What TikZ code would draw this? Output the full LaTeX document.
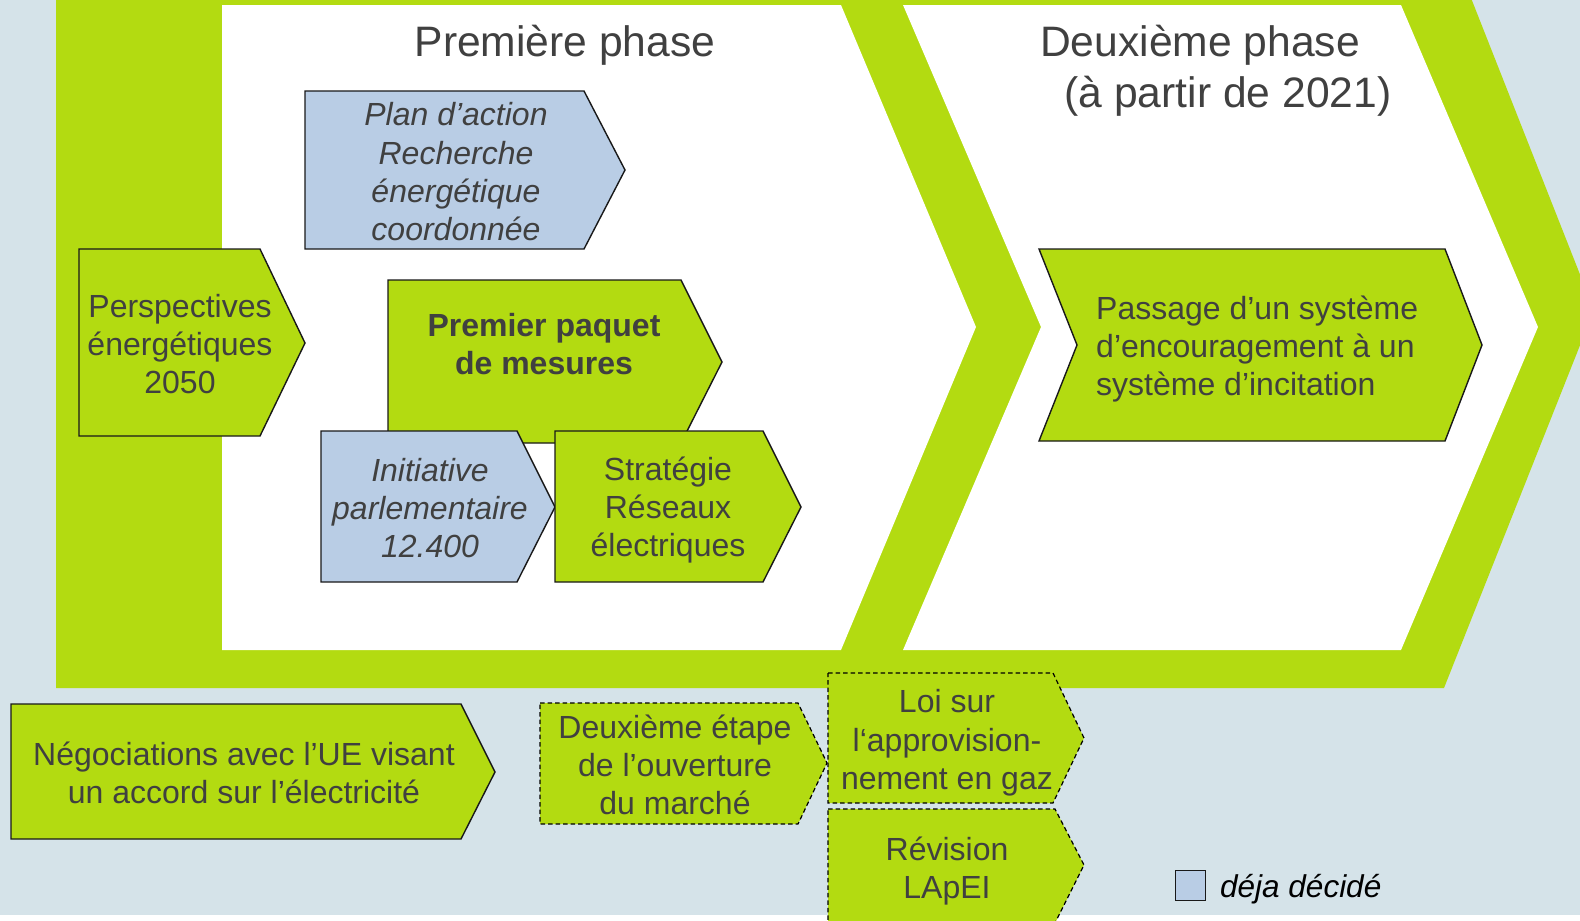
\documentclass[tikz,border=0pt]{standalone}
\usepackage{fontspec}
\setmainfont{Liberation Sans}
\definecolor{bg}{RGB}{213,227,233}
\definecolor{lime}{RGB}{179,219,17}
\definecolor{pale}{RGB}{185,205,229}
\definecolor{txt}{RGB}{64,64,64}
\begin{document}
\begin{tikzpicture}[x=1pt,y=-1pt,
  box/.style={draw=black!90, line width=1.4pt, line join=miter},
  greenbox/.style={box, fill=lime},
  bluebox/.style={box, fill=pale},
  dashbox/.style={fill=lime, draw=black, line width=1.2pt, dash pattern=on 4.5pt off 3pt},
  lbl/.style={text=txt, align=center, inner sep=0pt, font=\fontsize{32}{38.3}\selectfont},
  ilbl/.style={lbl, font=\fontsize{32}{38.3}\selectfont\itshape},
  blbl/.style={lbl, font=\fontsize{32}{37.5}\selectfont\bfseries},
  title/.style={text=txt, inner sep=0pt, anchor=base, font=\fontsize{42.6}{50}\selectfont}]
\useasboundingbox (0,0) rectangle (1580,921);
\clip (0,0) rectangle (1580,921);
% background
\fill[bg] (0,0) rectangle (1580,915);
\fill[white] (0,915) rectangle (1580,921);
% big chevron frame
\fill[lime] (56,-2) -- (1471,-2) -- (1594,310) -- (1444,688) -- (56,688) -- cycle;
\fill[white] (222,5) -- (841,5) -- (976,327) -- (841,650) -- (222,650) -- cycle;
\fill[white] (903,5) -- (1401,5) -- (1538,327) -- (1401,650) -- (903,650) -- (1041,327) -- cycle;
% titles
\node[title] (t1) at (565,56) {Première phase};
\node[title] (t2) at (1200,56) {Deuxième phase};
\node[title] (t3) at (1228,107) {(à partir de 2021)};
% first phase boxes
\path[bluebox] (305,91) -- (584,91) -- (625,170) -- (584,249) -- (305,249) -- cycle;
\node[ilbl] (plan) at (456,172) {Plan d’action\\Recherche\\énergétique\\coordonnée};
\path[greenbox] (79,249) -- (260,249) -- (305,343) -- (260,436) -- (79,436) -- cycle;
\node[lbl] (persp) at (180,344) {Perspectives\\énergétiques\\2050};
\path[greenbox] (388,280) -- (681,280) -- (722,362) -- (681,443) -- (388,443) -- cycle;
\node[blbl] (paquet) at (544,344) {Premier paquet\\de mesures};
\path[bluebox] (321,431) -- (517,431) -- (555,507) -- (517,582) -- (321,582) -- cycle;
\node[ilbl] (init) at (430,508) {Initiative\\parlementaire\\12.400};
\path[greenbox] (555,431) -- (763,431) -- (801,507) -- (763,582) -- (555,582) -- cycle;
\node[lbl] (strat) at (668,510) {Stratégie\\Réseaux\\électriques};
% second phase box
\path[greenbox] (1039,249) -- (1445,249) -- (1482,345) -- (1445,441) -- (1039,441) -- (1077,345) -- cycle;
\node[lbl, align=left, anchor=west] (passage) at (1096,349) {Passage d’un système\\d’encouragement à un\\système d’incitation};
% bottom row
\path[greenbox] (11,704) -- (461,704) -- (495,772) -- (461,839) -- (11,839) -- cycle;
\node[lbl] (nego) at (244,773) {Négociations avec l’UE visant\\un accord sur l’électricité};
\path[dashbox] (540,703) -- (798,703) -- (827,763) -- (798,824) -- (540,824) -- cycle;
\node[lbl] (etape) at (675,765) {Deuxième étape\\de l’ouverture\\du marché};
\path[dashbox] (828,673) -- (1053,673) -- (1084,738) -- (1053,803) -- (828,803) -- cycle;
\node[lbl] (loi) at (947,743) {Loi sur\\l‘approvision-\\nement en gaz};
\path[dashbox] (828,809) -- (1055,809) -- (1084,865) -- (1055,923) -- (828,923) -- cycle;
\node[lbl] (revision) at (947,871) {Révision\\LApEI};
% legend
\node[draw=black!90, line width=1.3pt, fill=pale, minimum size=30pt, inner sep=0pt] (legsq) at (1190.5,885.5) {};
\node[anchor=west, inner sep=0pt, font=\fontsize{31.5}{37}\selectfont\itshape] (legtx) at (1220,889) {déja décidé};
\end{tikzpicture}
\end{document}
